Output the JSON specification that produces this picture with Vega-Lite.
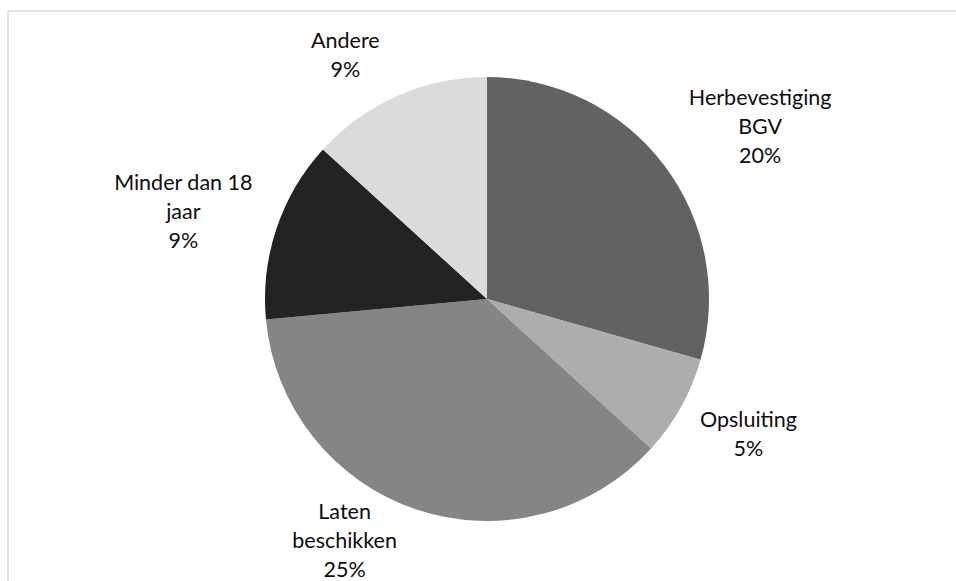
{
  "$schema": "https://vega.github.io/schema/vega-lite/v6.json",
  "autosize": {"type": "none"},
  "width": 958,
  "height": 576,
  "padding": {"left": 8, "top": 11, "right": 0, "bottom": 0},
  "background": "white",
  "view": {"stroke": "#d6dae0", "strokeWidth": 1.5, "fill": "white"},
  "config": {"view": {"stroke": "#d6dae0", "strokeWidth": 1.5}},
  "data": {
    "values": [
      {"category": "Herbevestiging BGV", "rank": 1, "value": 20, "label": "Herbevestiging\nBGV\n20%"},
      {"category": "Opsluiting", "rank": 2, "value": 5, "label": "Opsluiting\n5%"},
      {"category": "Laten beschikken", "rank": 3, "value": 25, "label": "Laten\nbeschikken\n25%"},
      {"category": "Minder dan 18 jaar", "rank": 4, "value": 9, "label": "Minder dan 18\njaar\n9%"},
      {"category": "Andere", "rank": 5, "value": 9, "label": "Andere\n9%"}
    ]
  },
  "encoding": {
    "theta": {"field": "value", "type": "quantitative", "stack": true},
    "order": {"field": "rank", "type": "quantitative"},
    "detail": {"field": "category", "type": "nominal"}
  },
  "layer": [
    {
      "mark": {"type": "arc", "outerRadius": 222},
      "encoding": {
        "color": {
          "field": "category",
          "type": "nominal",
          "legend": null,
          "scale": {
            "domain": ["Herbevestiging BGV", "Opsluiting", "Laten beschikken", "Minder dan 18 jaar", "Andere"],
            "range": ["#626262", "#adadad", "#858585", "#232323", "#dbdbdb"]
          }
        }
      }
    },
    {
      "mark": {"type": "text", "radius": 321, "dx": 17, "dy": -7, "font": "Lato", "fontSize": 21.5, "lineHeight": 29, "lineBreak": "\n", "align": "center", "baseline": "middle", "color": "#0d0d0d"},
      "encoding": {"text": {"condition": {"test": "datum.category === 'Herbevestiging BGV'", "field": "label"}, "value": ""}}
    },
    {
      "mark": {"type": "text", "radius": 297, "dx": 2, "dy": -22.5, "font": "Lato", "fontSize": 21.5, "lineHeight": 29, "lineBreak": "\n", "align": "center", "baseline": "middle", "color": "#0d0d0d"},
      "encoding": {"text": {"condition": {"test": "datum.category === 'Opsluiting'", "field": "label"}, "value": ""}}
    },
    {
      "mark": {"type": "text", "radius": 275, "dx": -55, "dy": -47, "font": "Lato", "fontSize": 21.5, "lineHeight": 29, "lineBreak": "\n", "align": "center", "baseline": "middle", "color": "#0d0d0d"},
      "encoding": {"text": {"condition": {"test": "datum.category === 'Laten beschikken'", "field": "label"}, "value": ""}}
    },
    {
      "mark": {"type": "text", "radius": 315, "dx": -5, "dy": -15, "font": "Lato", "fontSize": 21.5, "lineHeight": 29, "lineBreak": "\n", "align": "center", "baseline": "middle", "color": "#0d0d0d"},
      "encoding": {"text": {"condition": {"test": "datum.category === 'Minder dan 18 jaar'", "field": "label"}, "value": ""}}
    },
    {
      "mark": {"type": "text", "radius": 279, "dx": -29, "dy": -1.5, "font": "Lato", "fontSize": 21.5, "lineHeight": 29, "lineBreak": "\n", "align": "center", "baseline": "middle", "color": "#0d0d0d"},
      "encoding": {"text": {"condition": {"test": "datum.category === 'Andere'", "field": "label"}, "value": ""}}
    }
  ]
}
